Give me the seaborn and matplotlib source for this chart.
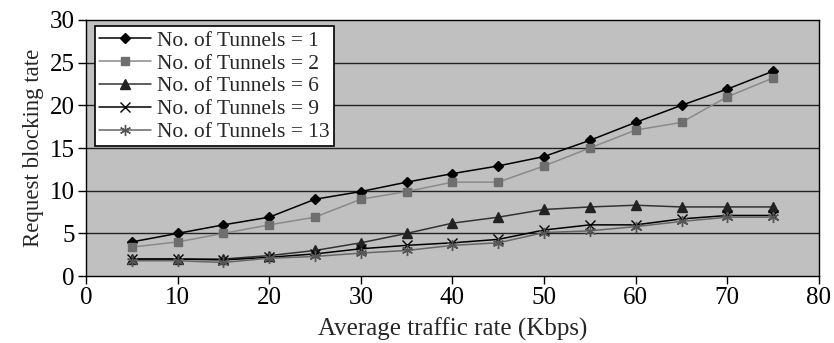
import matplotlib
matplotlib.use("Agg")
import matplotlib.pyplot as plt
import seaborn as sns
import pandas as pd

rate = [5, 10, 15, 20, 25, 30, 35, 40, 45, 50, 55, 60, 65, 70, 75]
t1 = [4.0, 5.0, 6.0, 6.9, 9.0, 9.9, 11.0, 12.0, 12.9, 14.0, 15.9, 18.0, 20.0, 21.9, 24.0]
t2 = [3.4, 4.0, 5.0, 6.0, 6.9, 9.0, 9.9, 11.0, 11.0, 12.9, 15.0, 17.1, 18.0, 21.0, 23.2]
t6 = [2.0, 2.0, 2.0, 2.4, 3.0, 3.9, 5.0, 6.2, 6.9, 7.8, 8.1, 8.3, 8.1, 8.1, 8.1]
t9 = [2.0, 2.0, 1.9, 2.2, 2.6, 3.2, 3.6, 3.9, 4.3, 5.4, 6.0, 6.0, 6.7, 7.1, 7.1]
t13 = [1.8, 1.8, 1.6, 2.1, 2.3, 2.7, 3.0, 3.6, 3.9, 5.1, 5.3, 5.8, 6.4, 6.9, 6.9]
labels = ["No. of Tunnels = 1", "No. of Tunnels = 2", "No. of Tunnels = 6",
          "No. of Tunnels = 9", "No. of Tunnels = 13"]
xticks = [0, 10, 20, 30, 40, 50, 60, 70, 80]
yticks = [0, 5, 10, 15, 20, 25, 30]

sns.set_style("ticks")
plt.rcParams['font.family'] = ['Liberation Serif', 'DejaVu Serif']
plt.rcParams['font.size'] = 15

fig = plt.figure(figsize=(8.34, 3.43), dpi=100)
ax = fig.add_axes([0.103, 0.195, 0.879, 0.747])
ax.set_facecolor("#c0c0c0")

styles = [
    dict(marker="D", ms=5, mfc="black", mec="black", lc="black"),
    dict(marker="s", ms=6, mfc="#6e6e6e", mec="#6e6e6e", lc="#8a8a8a"),
    dict(marker="^", ms=7, mfc="#222222", mec="#222222", lc="#333333"),
    dict(marker="x", ms=7, mfc="black", mec="black", lc="black"),
    dict(marker=(6, 2, 0), ms=8, mfc="#555555", mec="#555555", lc="#666666"),
]
series = [t1, t2, t6, t9, t13]
for lab, vals, st in zip(labels, series, styles):
    df = pd.DataFrame({"rate": rate, "val": vals})
    sns.lineplot(data=df, x="rate", y="val", ax=ax, color=st["lc"], lw=1.1,
                 marker=st["marker"], markersize=st["ms"], markerfacecolor=st["mfc"],
                 markeredgecolor=st["mec"], markeredgewidth=1.0, label=lab)

ax.set_xlim(0, 80)
ax.set_ylim(0, 30)
ax.set_xticks(xticks)
ax.set_yticks(yticks)
for y in yticks[1:-1]:
    ax.axhline(y, color="#222222", lw=1.0, zorder=0.5)
for s in ax.spines.values():
    s.set_color("black")
    s.set_linewidth(1.0)
ax.tick_params(direction="out", length=6, width=1, labelsize=18, colors="black", pad=2)
ax.set_xlabel("Average traffic rate (Kbps)", fontsize=18, labelpad=6)
ax.set_ylabel("Request blocking tate", fontsize=16.5, labelpad=4)

leg = ax.legend(loc="upper left", bbox_to_anchor=(0.012, 0.975), fontsize=15.5, frameon=True,
                fancybox=False, framealpha=1, edgecolor="black", borderpad=0.2,
                labelspacing=0.13, handlelength=2.4, handletextpad=0.3, borderaxespad=0)
leg.get_frame().set_linewidth(1.2)

fig.savefig("out.png", dpi=100)
